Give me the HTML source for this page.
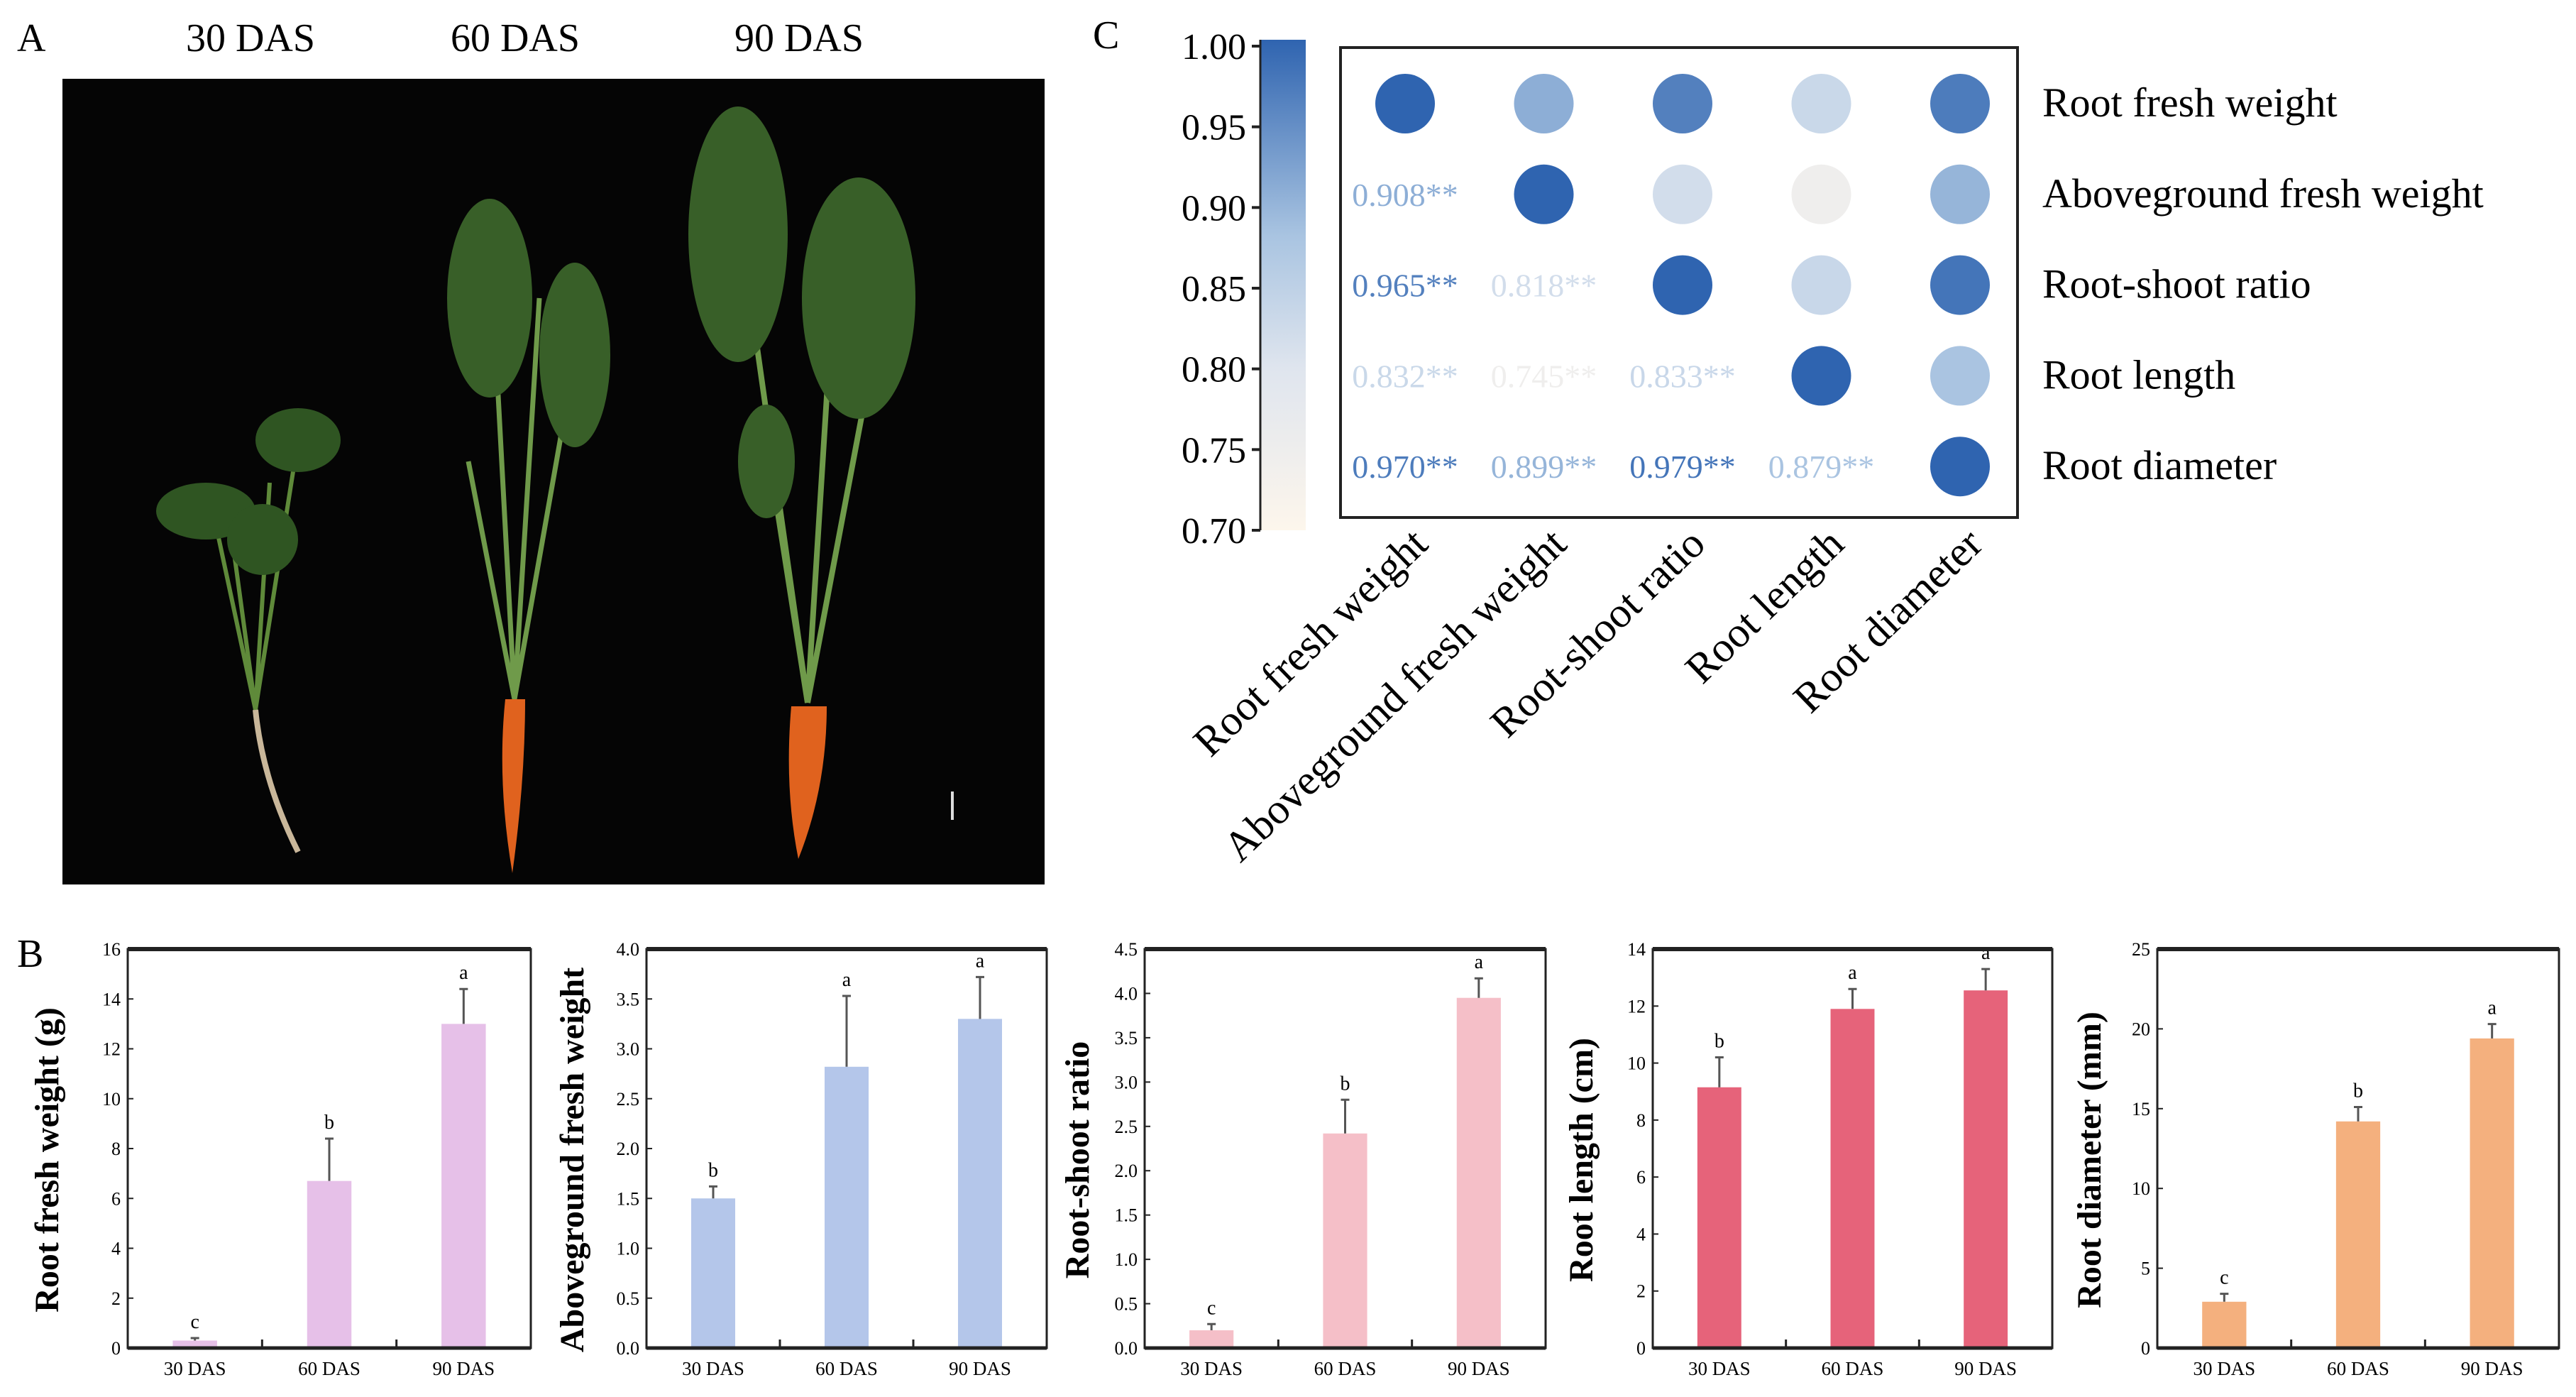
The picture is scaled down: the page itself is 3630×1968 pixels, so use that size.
<!DOCTYPE html>
<html><head><meta charset="utf-8"><style>
html,body{margin:0;padding:0;background:#fff;}
svg{display:block;}
text{font-family:"Liberation Serif","DejaVu Serif",serif;}
</style></head><body>
<svg id="fig" width="3630" height="1968" viewBox="0 0 3630 1968" xmlns="http://www.w3.org/2000/svg">
<g>
<text x="24" y="72" font-size="56">A</text>
<text x="353" y="72" font-size="56" text-anchor="middle">30 DAS</text>
<text x="726" y="72" font-size="56" text-anchor="middle">60 DAS</text>
<text x="1126" y="72" font-size="56" text-anchor="middle">90 DAS</text>
<rect x="88" y="111" width="1384" height="1135" fill="#050505"/>
<g stroke="#5f8a3a" stroke-width="6" fill="none">
<path d="M360 1000 L330 780 M360 1000 L380 680 M360 1000 L300 720 M360 1000 L420 620"/>
<path d="M360 1000 Q370 1100 420 1200" stroke="#c9b79a" stroke-width="8"/>
<ellipse cx="290" cy="720" rx="70" ry="40" fill="#2f5522" stroke="none"/>
<ellipse cx="420" cy="620" rx="60" ry="45" fill="#2f5522" stroke="none"/>
<ellipse cx="370" cy="760" rx="50" ry="50" fill="#2f5522" stroke="none"/>
</g>
<g stroke="#6f9a4a" stroke-width="7" fill="none">
<path d="M725 985 L700 520 M725 985 L760 420 M725 985 L800 560 M725 985 L660 650"/>
<ellipse cx="690" cy="420" rx="60" ry="140" fill="#385f28" stroke="none"/>
<ellipse cx="810" cy="500" rx="50" ry="130" fill="#385f28" stroke="none"/>
<path d="M712 985 Q700 1100 722 1230 Q740 1100 740 985 Z" fill="#e0621e" stroke="none"/>
</g>
<g stroke="#6f9a4a" stroke-width="8" fill="none">
<path d="M1138 990 L1040 300 M1138 990 L1180 320 M1138 990 L1240 450 M1138 990 L1080 620"/>
<ellipse cx="1040" cy="330" rx="70" ry="180" fill="#385f28" stroke="none"/>
<ellipse cx="1210" cy="420" rx="80" ry="170" fill="#385f28" stroke="none"/>
<ellipse cx="1080" cy="650" rx="40" ry="80" fill="#385f28" stroke="none"/>
<path d="M1115 995 Q1105 1110 1125 1210 Q1165 1110 1165 995 Z" fill="#e0621e" stroke="none"/>
</g>
<rect x="1340" y="1115" width="4" height="40" fill="#ddd"/>
</g>
<g id="panelC">
<text x="1540" y="68" font-size="56">C</text>
<defs><linearGradient id="cb" x1="0" y1="1" x2="0" y2="0">
<stop offset="0" stop-color="#fdf6ec"/><stop offset="0.33" stop-color="#dfe5ee"/><stop offset="0.6" stop-color="#a9c4e1"/><stop offset="1" stop-color="#2f64b0"/></linearGradient></defs>
<rect x="1776" y="56" width="64" height="691" fill="url(#cb)"/>
<rect x="1889" y="67" width="954" height="662" fill="none" stroke="#222" stroke-width="4"/>
</g>
<g id="panelB">
<text x="24" y="1362" font-size="56">B</text>
</g>
</svg>
<script>
const NS='http://www.w3.org/2000/svg';
function mk(tag,attrs,parent,text){const e=document.createElementNS(NS,tag);for(const k in attrs)e.setAttribute(k,attrs[k]);if(text!==undefined)e.textContent=text;parent.appendChild(e);return e;}

// ---------- Panel C data ----------
const corrVars=['Root fresh weight','Aboveground fresh weight','Root-shoot ratio','Root length','Root diameter'];
const corrRow1=[1,0.908,0.965,0.832,0.970];
const corrRow2=[0.908,1,0.818,0.745,0.899];
const corrRow3=[0.965,0.818,1,0.833,0.979];
const corrRow4=[0.832,0.745,0.833,1,0.879];
const corrRow5=[0.970,0.899,0.979,0.879,1];
const cbTicks=[0.70,0.75,0.80,0.85,0.90,0.95,1.00];

// ---------- Panel B data ----------
const groups=['30 DAS','60 DAS','90 DAS'];
const rfwValues=[0.3,6.7,13.0];
const rfwErr=[0.1,1.7,1.4];
const rfwLetters=['c','b','a'];
const agwValues=[1.5,2.82,3.3];
const agwErr=[0.12,0.71,0.42];
const agwLetters=['b','a','a'];
const rsrValues=[0.2,2.42,3.95];
const rsrErr=[0.07,0.38,0.22];
const rsrLetters=['c','b','a'];
const rlValues=[9.15,11.9,12.55];
const rlErr=[1.05,0.7,0.75];
const rlLetters=['b','a','a'];
const rdValues=[2.9,14.2,19.4];
const rdErr=[0.5,0.9,0.9];
const rdLetters=['c','b','a'];
const rfwTicks=[0,2,4,6,8,10,12,14,16];
const agwTicks=[0,0.5,1.0,1.5,2.0,2.5,3.0,3.5,4.0];
const rsrTicks=[0,0.5,1.0,1.5,2.0,2.5,3.0,3.5,4.0,4.5];
const rlTicks=[0,2,4,6,8,10,12,14];
const rdTicks=[0,5,10,15,20,25];

(function(){
const corr=[corrRow1,corrRow2,corrRow3,corrRow4,corrRow5];
const C=document.getElementById('panelC');
const cbY=v=>747-(v-0.70)/0.30*(747-65);
function lerp(a,b,t){return a+(b-a)*t;}
const stops=[[0,[253,246,236]],[0.33,[223,229,238]],[0.6,[169,196,225]],[1,[47,100,176]]];
function cmap(v){let t=Math.max(0,Math.min(1,(v-0.70)/0.30));for(let i=0;i<stops.length-1;i++){const a=stops[i][0],ca=stops[i][1],b=stops[i+1][0],cb=stops[i+1][1];if(t<=b){const u=(t-a)/(b-a);return 'rgb('+ca.map((c,j)=>Math.round(lerp(c,cb[j],u))).join(',')+')';}}return 'rgb(47,100,176)';}
cbTicks.forEach(v=>{
  const y=cbY(v);
  const t=mk('line',{x1:1764,x2:1776,y1:y,y2:y,stroke:'#222','stroke-width':4},C);
  
  
  const l=mk('text',{x:1756,y:y+18,'font-size':52,'text-anchor':'end'},C,v.toFixed(2));
  
  
});
mk('line',{x1:1776,x2:1776,y1:56,y2:747,stroke:'#222','stroke-width':3},C);
const colX=i=>1980+i*195.5, rowY=i=>146+i*127.8;
for(let r=0;r<5;r++){for(let c=0;c<5;c++){
  const v=corr[r][c];
  if(c>=r){
    const e=mk('circle',{cx:colX(c),cy:rowY(r),r:42,fill:cmap(v)},C);
    
    
  } else {
    const e=mk('text',{x:colX(c),y:rowY(r)+16,'font-size':46,'text-anchor':'middle',fill:cmap(v)},C,v.toFixed(3)+'**');
    
    
  }
}}
corrVars.forEach((n,i)=>{
  const e=mk('text',{x:2878,y:rowY(i)+18,'font-size':58},C,n);
  
  
  const ex=colX(i)+35, ey=770;
  const t=mk('text',{x:ex,y:ey,'font-size':60,'text-anchor':'end',transform:'rotate(-44 '+ex+' '+ey+')'},C,n);
  
  
});

const charts=[
 {name:'root-fresh-weight',title:'Root fresh weight (g)',vals:rfwValues,err:rfwErr,let:rfwLetters,ticks:rfwTicks,dec:0,color:'#e6c0e8',x0:180,x1:748,lx:82},
 {name:'aboveground-fresh-weight',title:'Aboveground fresh weight',vals:agwValues,err:agwErr,let:agwLetters,ticks:agwTicks,dec:1,color:'#b4c6ea',x0:911,x1:1475,lx:822},
 {name:'root-shoot-ratio',title:'Root-shoot ratio',vals:rsrValues,err:rsrErr,let:rsrLetters,ticks:rsrTicks,dec:1,color:'#f5bfc8',x0:1613,x1:2178,lx:1534},
 {name:'root-length',title:'Root length (cm)',vals:rlValues,err:rlErr,let:rlLetters,ticks:rlTicks,dec:0,color:'#e6637a',x0:2329,x1:2892,lx:2244},
 {name:'root-diameter',title:'Root diameter (mm)',vals:rdValues,err:rdErr,let:rdLetters,ticks:rdTicks,dec:0,color:'#f4b07e',x0:3040,x1:3606,lx:2960}
];
const B=document.getElementById('panelB');
const pTop=1337,pBot=1899;
charts.forEach(ch=>{
  const g=mk('g',{},B);
  
  
  const max=ch.ticks[ch.ticks.length-1];
  const y=v=>pBot-v/max*(pBot-pTop);
  const w=ch.x1-ch.x0;
  const x=i=>ch.x0+w*(i+0.5)/3;
  const bw=w*0.11;
  ch.vals.forEach((v,i)=>{
    const b=mk('rect',{x:x(i)-bw/2,y:y(v),width:bw,height:pBot-y(v),fill:ch.color},g);
    
    
    const te=y(v+ch.err[i]);
    const eb=mk('path',{d:'M'+x(i)+' '+y(v)+' V'+te+' M'+(x(i)-6)+' '+te+' H'+(x(i)+6),stroke:'#555','stroke-width':3,fill:'none'},g);
    
    
    const lt=mk('text',{x:x(i),y:te-14,'font-size':28,'text-anchor':'middle'},g,ch.let[i]);
    
    
    const xl=mk('text',{x:x(i),y:pBot+38,'font-size':27,'text-anchor':'middle'},g,groups[i]);
    
    
  });
  ch.ticks.forEach(t=>{
    const tl=mk('text',{x:ch.x0-10,y:y(t)+9,'font-size':26,'text-anchor':'end'},g,t.toFixed(ch.dec));
    
    
    mk('line',{x1:ch.x0,x2:ch.x0+8,y1:y(t),y2:y(t),stroke:'#222','stroke-width':2},g);
  });
  [1,2].forEach(k=>mk('line',{x1:ch.x0+w*k/3,x2:ch.x0+w*k/3,y1:pBot,y2:pBot-12,stroke:'#222','stroke-width':3},g));
  const fr=mk('rect',{x:ch.x0,y:pTop,width:w,height:pBot-pTop,fill:'none',stroke:'#222','stroke-width':3},g);
  
  
  mk('line',{x1:ch.x0,x2:ch.x1,y1:pTop,y2:pTop,stroke:'#222','stroke-width':6},g);
  mk('line',{x1:ch.x0,x2:ch.x1,y1:pBot,y2:pBot,stroke:'#222','stroke-width':5},g);
  const cy=(pTop+pBot)/2;
  const yt=mk('text',{x:ch.lx,y:cy+16,'font-size':48,'font-weight':'bold','text-anchor':'middle',transform:'rotate(-90 '+ch.lx+' '+(cy+16)+')'},g,ch.title);
  
  
});
})();
</script>
</body></html>
